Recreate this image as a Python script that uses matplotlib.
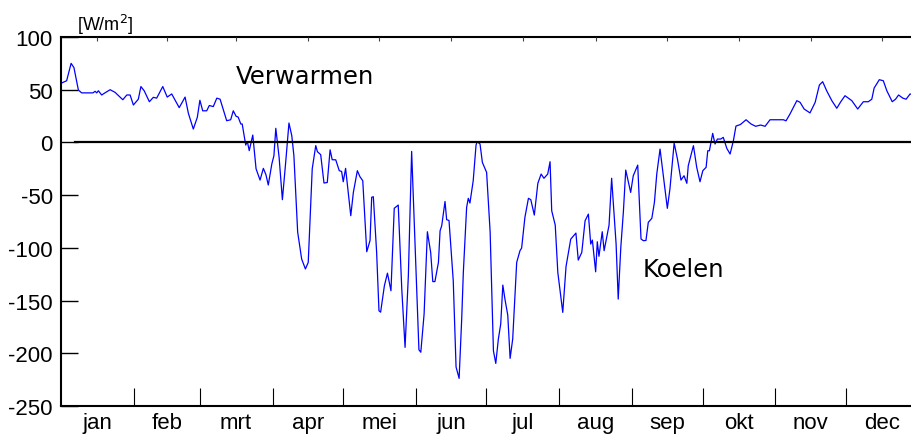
import matplotlib
matplotlib.use("Agg")
import matplotlib.pyplot as plt
import numpy as np

# day of year and net energy demand [W/m2]
days = [0.3, 2.4, 4.3, 5.5, 7.4, 8.8, 13.6, 14.5, 15.2, 15.9, 17.3, 18.7, 20.9, 23.0,
        26.3, 28.0, 29.4, 30.8, 32.9, 34.0, 35.4, 37.6, 39.3, 40.7, 43.3, 45.2, 47.1,
        50.3, 52.8, 54.2, 56.3, 58.0, 59.1, 60.3, 62.0, 63.1, 64.8, 66.3, 67.7, 70.5,
        72.2, 73.3, 74.5, 75.4, 76.5, 77.1, 78.6, 79.3, 80.1, 81.6, 83.0, 84.7, 86.1,
        87.2, 88.2, 89.7, 90.6, 91.4, 92.8, 94.2, 95.6, 97.0, 98.2, 99.1, 100.7, 102.4,
        104.0, 105.2, 106.9, 108.4, 109.1, 110.5, 111.9, 113.3, 114.5, 115.4, 116.9,
        118.4, 119.4, 120.1, 121.1, 123.3, 124.4, 126.1, 127.2, 128.4, 130.1, 131.5,
        132.2, 132.9, 134.3, 135.3, 136.0, 137.6, 138.9, 140.4, 141.8, 143.5, 145.0,
        146.4, 147.8, 149.2, 150.6, 152.3, 153.1, 154.5, 155.9, 157.3, 158.2, 159.1,
        160.6, 161.3, 162.0, 163.4, 164.1, 165.1, 166.9, 168.1, 169.4, 170.5, 171.2,
        172.6, 173.3, 174.0, 175.4, 176.6, 177.1, 178.3, 179.3, 181.1, 182.6, 184.0,
        185.0, 186.1, 187.1, 188.0, 188.9, 190.1, 191.1, 192.2, 193.9, 195.3, 196.0,
        197.4, 198.9, 199.9, 201.4, 202.9, 204.3, 205.5, 207.1, 208.1, 208.8, 210.3,
        211.4, 213.5, 214.9, 216.9, 219.1, 220.1, 221.6, 223.0, 224.4, 225.4, 226.1,
        227.5, 228.2, 228.9, 230.3, 231.1, 233.2, 234.3, 236.2, 237.1, 238.2, 239.3,
        240.3, 242.4, 243.5, 245.4, 246.8, 247.8, 248.9, 249.9, 251.4, 252.5, 253.5,
        254.9, 256.3, 258.0, 259.1, 260.9, 262.3, 263.8, 265.1, 266.3, 266.9, 269.1,
        270.5, 271.9, 273.1, 274.5, 275.2, 275.9, 277.3, 278.3, 279.3, 280.7, 281.8,
        283.3, 284.7, 286.1, 287.2, 289.1, 291.5, 293.6, 295.6, 297.7, 299.6, 301.7,
        307.4, 308.5, 310.2, 313.1, 314.5, 316.2, 318.7, 320.9, 322.7, 324.1, 325.8,
        328.0, 330.1, 331.8, 333.6, 336.5, 339.0, 341.4, 343.5, 345.0, 346.0, 348.2,
        349.9, 351.4, 353.7, 355.1, 356.4, 358.2, 359.6, 361.3, 364.0]
demand = [56.4, 58.5, 75, 71, 49.7, 47, 47, 48.5, 47, 49, 45, 47, 50, 47.5,
          40.5, 45, 45, 35.5, 41, 53, 49, 38.6, 42.8, 42, 53, 43, 46,
          33, 43, 27.6, 12.7, 23.8, 40, 30, 30, 35, 34, 42, 41, 20.6,
          21.5, 30, 24.8, 24, 17.5, 17.5, -2.5, 0.7, -7.8, 7, -25, -35.7, -24.6,
          -30.6, -40.4, -20.5, -12.6, 13.4, -14, -54.3, -19, 18.4, 6.4, -12.6, -85, -110.6,
          -120, -113.8, -25, -3, -8.8, -11.6, -38.5, -38, -7, -16.4, -16.5,
          -26.8, -27.5, -37.3, -24.6, -69.5, -47.4, -26.8, -32.5, -36.3, -103.7, -93,
          -52, -51.5, -104, -159.7, -161, -136, -124, -140.7, -62.5, -59.4, -139,
          -194.4, -126.5, -8.5, -94.8, -196.7, -199, -162.8, -84.7, -104.3, -132, -132,
          -113.8, -83.8, -79, -56, -73.3, -74, -131, -213, -223.8, -167.5, -123,
          -61.6, -53, -57.5, -36.3, -2.5, 0.7, -1.5, -19, -28.4, -85, -197.6,
          -209.6, -186.5, -172.3, -135.3, -148.6, -163.8, -204.8, -186.5, -113.8, -102.7, -100.2,
          -71, -53, -54.3, -68.9, -38.8, -30, -34, -30, -18.3, -64.8, -78.4,
          -123.3, -161.2, -117.6, -91.7, -86, -111.6, -104.3, -74.3, -68, -96.4, -92.6,
          -122.7, -94.2, -108, -84.7, -102.7, -78.4, -34, -96.4, -148.6, -99.5, -65.7,
          -26.2, -47.4, -31.6, -21.5, -91.6, -93.2, -93, -75.8, -72, -56.9, -30,
          -6.3, -31.6, -62.5, -44.2, -0.6, -15.7, -35.7, -31.6, -38.8, -22.1, -3.1,
          -23.6, -37.3, -26.8, -23.6, -7.9, -7.9, 8.6, -1.5, 3.2, 3.2, 4.8,
          -5.6, -11, 1.5, 15.5, 17, 21.5, 17.5, 15.3, 16.5, 15.3, 21.5,
          21.5, 20.5, 27, 39.6, 38, 31.7, 28, 38, 54.5, 57.6, 49,
          39.6, 32.4, 38.6, 44.3, 39.6, 31.7, 38.6, 38.6, 41, 51.6, 59.5,
          58.5, 49, 38.6, 41, 45, 42, 41, 46, 44]

months = ['jan', 'feb', 'mrt', 'apr', 'mei', 'jun', 'jul', 'aug', 'sep', 'okt', 'nov', 'dec']
month_days = [31, 28, 31, 30, 31, 30, 31, 31, 30, 31, 30, 31]
yticks = [100, 50, 0, -50, -100, -150, -200, -250]

edges = np.concatenate([[0], np.cumsum(month_days)])
centers = (edges[:-1] + edges[1:]) / 2

fig = plt.figure(figsize=(9.11, 4.39), dpi=100)
# the right edge of the plot box falls just outside the picture, like the original
ax = fig.add_axes([61 / 911, 32 / 439, (918.8 - 61) / 911, 369 / 439])

ax.plot(days, demand, color='#0000ff', lw=0.9)
ax.plot([6, 365], [0, 0], color='black', lw=1.6)

ax.set_xlim(0, 365)
ax.set_ylim(-250, 100)

# month labels in the middle, boundary ticks at the bottom
ax.set_xticks(centers)
ax.set_xticklabels(months, fontsize=16, family='Liberation Sans')
ax.set_xticks(edges[1:-1], minor=True)
ax.tick_params(axis='x', which='major', length=0, pad=4)
ax.tick_params(axis='x', which='minor', direction='in', length=13, width=0.8, color='black')

ax.set_yticks(yticks)
ax.set_yticklabels([str(t) for t in yticks], fontsize=16, family='Liberation Sans')
ax.tick_params(axis='y', direction='in', length=12, width=1.0, pad=6)

for s in ax.spines.values():
    s.set_linewidth(1.5)

# small ticks on top at month centres
top = ax.twiny()
top.set_xlim(ax.get_xlim())
top.set_xticks(centers)
top.set_xticklabels([])
top.tick_params(axis='x', direction='in', length=3, width=0.8, color='#444444')
for s in top.spines.values():
    s.set_visible(False)

# unit label and annotations
fig.text(77 / 911, 1 - 31 / 439, r'[W/m$^2$]', fontsize=13, family='Liberation Sans',
         ha='left', va='baseline')
fig.text(236 / 911, 1 - 84 / 439, 'Verwarmen', fontsize=17.5, family='DejaVu Sans',
         ha='left', va='baseline')
fig.text(643 / 911, 1 - 277 / 439, 'Koelen', fontsize=17.5, family='DejaVu Sans',
         ha='left', va='baseline')

fig.savefig('out.png', dpi=100)
